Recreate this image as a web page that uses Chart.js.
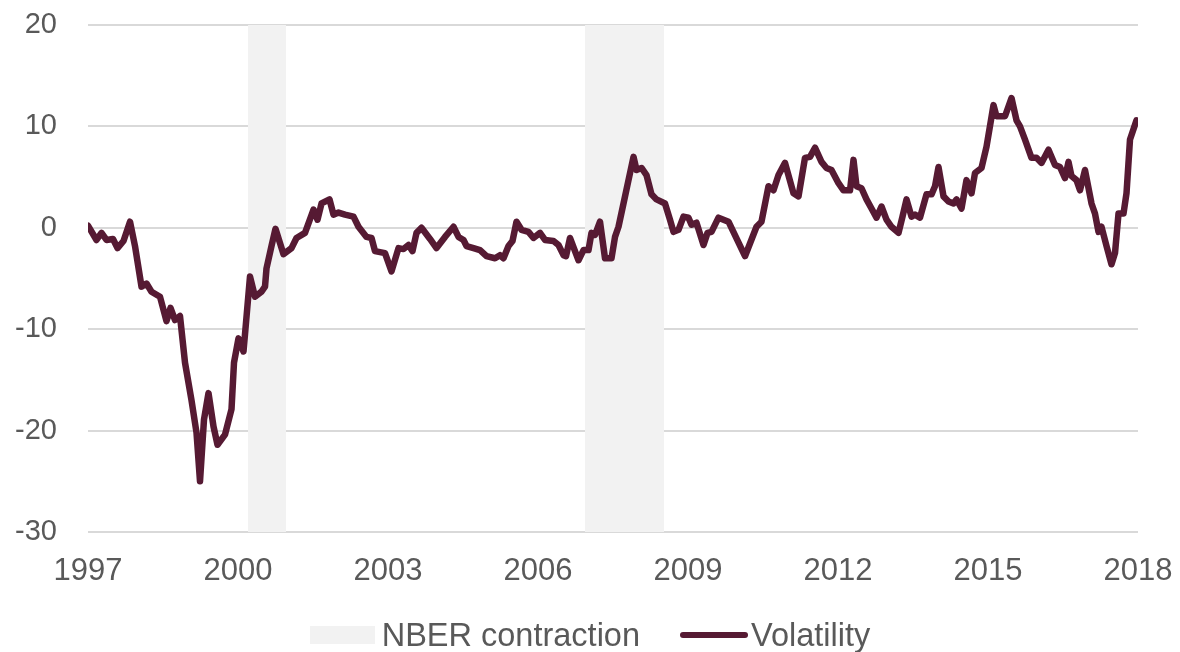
<!DOCTYPE html>
<html>
<head>
<meta charset="utf-8">
<script src="https://cdn.jsdelivr.net/npm/chart.js@4"></script>
<style>
  html, body { margin: 0; padding: 0; background: #ffffff; }
  #wrap { position: relative; width: 1180px; height: 652px; }
  #legend {
    position: absolute; left: 0; top: 617px; width: 1180px; height: 36px;
    display: flex; justify-content: center; align-items: center;
    font-family: "Liberation Sans", Arial, sans-serif; font-size: 32.5px; color: #595959;
  }
  .box { width: 65px; height: 18px; background: #f2f2f2; margin-right: 7px; }
  .ln { width: 68px; height: 6px; background: #561a33; border-radius: 3px; margin-left: 40px; margin-right: 3px; }
</style>
</head>
<body>
<div id="wrap">
  <canvas id="chart" width="1180" height="652"></canvas>
  <div id="legend">
    <div class="box"></div><span>NBER contraction</span>
    <div class="ln"></div><span>Volatility</span>
  </div>
</div>
<script>
// ── data (decimal years / index values) ──
const volYears = [
  1997.00, 1997.17, 1997.27, 1997.37, 1997.50, 1997.59, 1997.71, 1997.84, 1997.94,
  1998.07, 1998.17, 1998.27, 1998.44, 1998.57, 1998.65, 1998.74, 1998.84, 1998.94,
  1999.07, 1999.17, 1999.24, 1999.32, 1999.41, 1999.51, 1999.59, 1999.74, 1999.87, 1999.92,
  2000.01, 2000.11, 2000.24, 2000.34, 2000.47, 2000.54, 2000.57, 2000.67, 2000.75, 2000.91,
  2001.07, 2001.17, 2001.34, 2001.51, 2001.59, 2001.67, 2001.83, 2001.91,
  2002.01, 2002.14, 2002.31, 2002.41, 2002.57, 2002.67, 2002.74, 2002.94,
  2003.07, 2003.21, 2003.31, 2003.41, 2003.49, 2003.57, 2003.67, 2003.84, 2003.97,
  2004.14, 2004.31, 2004.41, 2004.51, 2004.57, 2004.71, 2004.84, 2004.97,
  2005.14, 2005.24, 2005.31, 2005.41, 2005.49, 2005.57, 2005.67, 2005.81, 2005.91,
  2006.04, 2006.14, 2006.31, 2006.41, 2006.51, 2006.56, 2006.64, 2006.74, 2006.81, 2006.91,
  2007.01, 2007.07, 2007.14, 2007.24, 2007.34, 2007.47, 2007.54, 2007.61, 2007.71, 2007.81, 2007.91, 2007.97,
  2008.07, 2008.17, 2008.27, 2008.37, 2008.54, 2008.64, 2008.71, 2008.81, 2008.91,
  2009.01, 2009.07, 2009.17, 2009.31, 2009.39, 2009.47, 2009.61, 2009.71, 2009.81,
  2010.14, 2010.37, 2010.47, 2010.61, 2010.71, 2010.81, 2010.94,
  2011.11, 2011.21, 2011.34, 2011.44, 2011.54, 2011.67, 2011.77, 2011.87,
  2012.01, 2012.11, 2012.24, 2012.31, 2012.37, 2012.47, 2012.57, 2012.67, 2012.77, 2012.87, 2012.97,
  2013.07, 2013.21, 2013.29, 2013.37, 2013.47, 2013.54, 2013.64, 2013.77, 2013.87, 2013.94,
  2014.01, 2014.11, 2014.21, 2014.31, 2014.37, 2014.47, 2014.57, 2014.67, 2014.74, 2014.87, 2014.97,
  2015.11, 2015.17, 2015.34, 2015.47, 2015.57, 2015.64, 2015.74, 2015.87, 2015.97,
  2016.07, 2016.21, 2016.34, 2016.44, 2016.54, 2016.61, 2016.67, 2016.77, 2016.84, 2016.94,
  2017.07, 2017.14, 2017.21, 2017.27, 2017.37, 2017.47, 2017.54, 2017.61, 2017.71, 2017.77, 2017.84, 2017.97
];
const volValues = [
  0.2, -1.2, -0.5, -1.2, -1.1, -2.0, -1.3, 0.6, -1.8,
  -5.8, -5.5, -6.3, -6.8, -9.2, -7.9, -9.1, -8.7, -13.3,
  -17.0, -20.2, -25.0, -18.9, -16.3, -19.6, -21.4, -20.4, -17.9, -13.3,
  -10.9, -12.2, -4.8, -6.8, -6.3, -5.8, -4.0, -1.8, -0.1, -2.6,
  -2.0, -1.0, -0.5, 1.8, 0.8, 2.4, 2.8, 1.3,
  1.5, 1.3, 1.1, 0.1, -0.9, -1.0, -2.3, -2.5,
  -4.3, -2.0, -2.1, -1.7, -2.3, -0.5, 0.0, -1.1, -2.0,
  -0.9, 0.1, -0.9, -1.2, -1.8, -2.0, -2.2, -2.8,
  -3.0, -2.7, -3.0, -1.8, -1.3, 0.6, -0.2, -0.4, -1.0,
  -0.5, -1.2, -1.3, -1.7, -2.7, -2.8, -1.0, -2.3, -3.2, -2.2,
  -2.2, -0.5, -0.7, 0.6, -3.0, -3.0, -0.9, 0.1, 2.4, 4.7, 7.0, 5.7,
  5.9, 5.2, 3.3, 2.8, 2.4, 0.8, -0.4, -0.2, 1.1,
  1.0, 0.3, 0.5, -1.7, -0.5, -0.4, 1.0, 0.8, 0.6,
  -2.8, 0.1, 0.6, 4.1, 3.7, 5.2, 6.4,
  3.4, 3.1, 6.9, 7.0, 7.9, 6.5, 5.9, 5.7,
  4.4, 3.7, 3.7, 6.7, 4.1, 3.9, 2.8, 1.9, 1.0, 2.1, 0.8,
  0.1, -0.5, 1.1, 2.8, 1.1, 1.3, 1.0, 3.3, 3.3, 4.1,
  6.0, 3.1, 2.6, 2.4, 2.8, 1.9, 4.7, 3.4, 5.4, 5.9, 8.0,
  12.1, 11.0, 11.0, 12.8, 10.6, 10.0, 8.7, 6.9, 6.9,
  6.4, 7.7, 6.2, 6.0, 4.9, 6.5, 5.1, 4.7, 3.7, 5.7,
  2.4, 1.4, -0.4, 0.1, -1.8, -3.6, -2.5, 1.4, 1.4, 3.4, 8.7, 10.6
];
// NBER contraction bands as placed on the reference's axis
const nberStart = [2000.2, 2006.94];
const nberEnd = [2000.96, 2008.52];
const xMin = 1997, xMax = 2018, xStep = 3;
const yMin = -30, yMax = 20, yStep = 10;

const FONT = '"Liberation Sans", Arial, sans-serif';
const TEXT = '#595959';
const LINE = '#561a33';

// shaded recession bands, drawn over the grid but under the line
const nberBands = {
    id: 'nberBands',
    beforeDatasetsDraw(chart) {
        const { ctx, chartArea, scales } = chart;
        ctx.save();
        ctx.fillStyle = '#f2f2f2';
        for (let i = 0; i < nberStart.length; i++) {
            const x0 = scales.x.getPixelForValue(nberStart[i]);
            const x1 = scales.x.getPixelForValue(nberEnd[i]);
            ctx.fillRect(x0, chartArea.top, x1 - x0, chartArea.bottom - chartArea.top);
        }
        ctx.restore();
    }
};

new Chart(document.getElementById('chart'), {
    type: 'line',
    data: {
        datasets: [{
            label: 'Volatility',
            data: volYears.map((x, i) => ({ x: x, y: volValues[i] })),
            borderColor: LINE,
            borderWidth: 6.5,
            borderJoinStyle: 'round',
            borderCapStyle: 'round',
            pointRadius: 0,
            tension: 0,
            fill: false
        }]
    },
    options: {
        responsive: false,
        animation: false,
        layout: { padding: { top: 25, right: 42, bottom: 70, left: 0 } },
        plugins: {
            legend: { display: false },
            tooltip: { enabled: false }
        },
        scales: {
            x: {
                type: 'linear',
                min: xMin,
                max: xMax,
                afterFit(scale) {
                    scale.height = 50;
                    scale.paddingLeft = 0;
                    scale.paddingRight = 0;
                },
                ticks: {
                    stepSize: xStep,
                    padding: 21,
                    color: TEXT,
                    font: { family: FONT, size: 31 },
                    callback: v => String(v)
                },
                grid: { display: false, drawTicks: false },
                border: { display: false }
            },
            y: {
                min: yMin,
                max: yMax,
                afterFit(scale) {
                    scale.width = 88;
                    scale.paddingTop = 0;
                    scale.paddingBottom = 0;
                },
                ticks: {
                    stepSize: yStep,
                    padding: 31,
                    color: TEXT,
                    font: { family: FONT, size: 29 }
                },
                grid: { color: '#d9d9d9', lineWidth: 2, drawTicks: false },
                border: { display: false }
            }
        }
    },
    plugins: [nberBands]
});
</script>
</body>
</html>
